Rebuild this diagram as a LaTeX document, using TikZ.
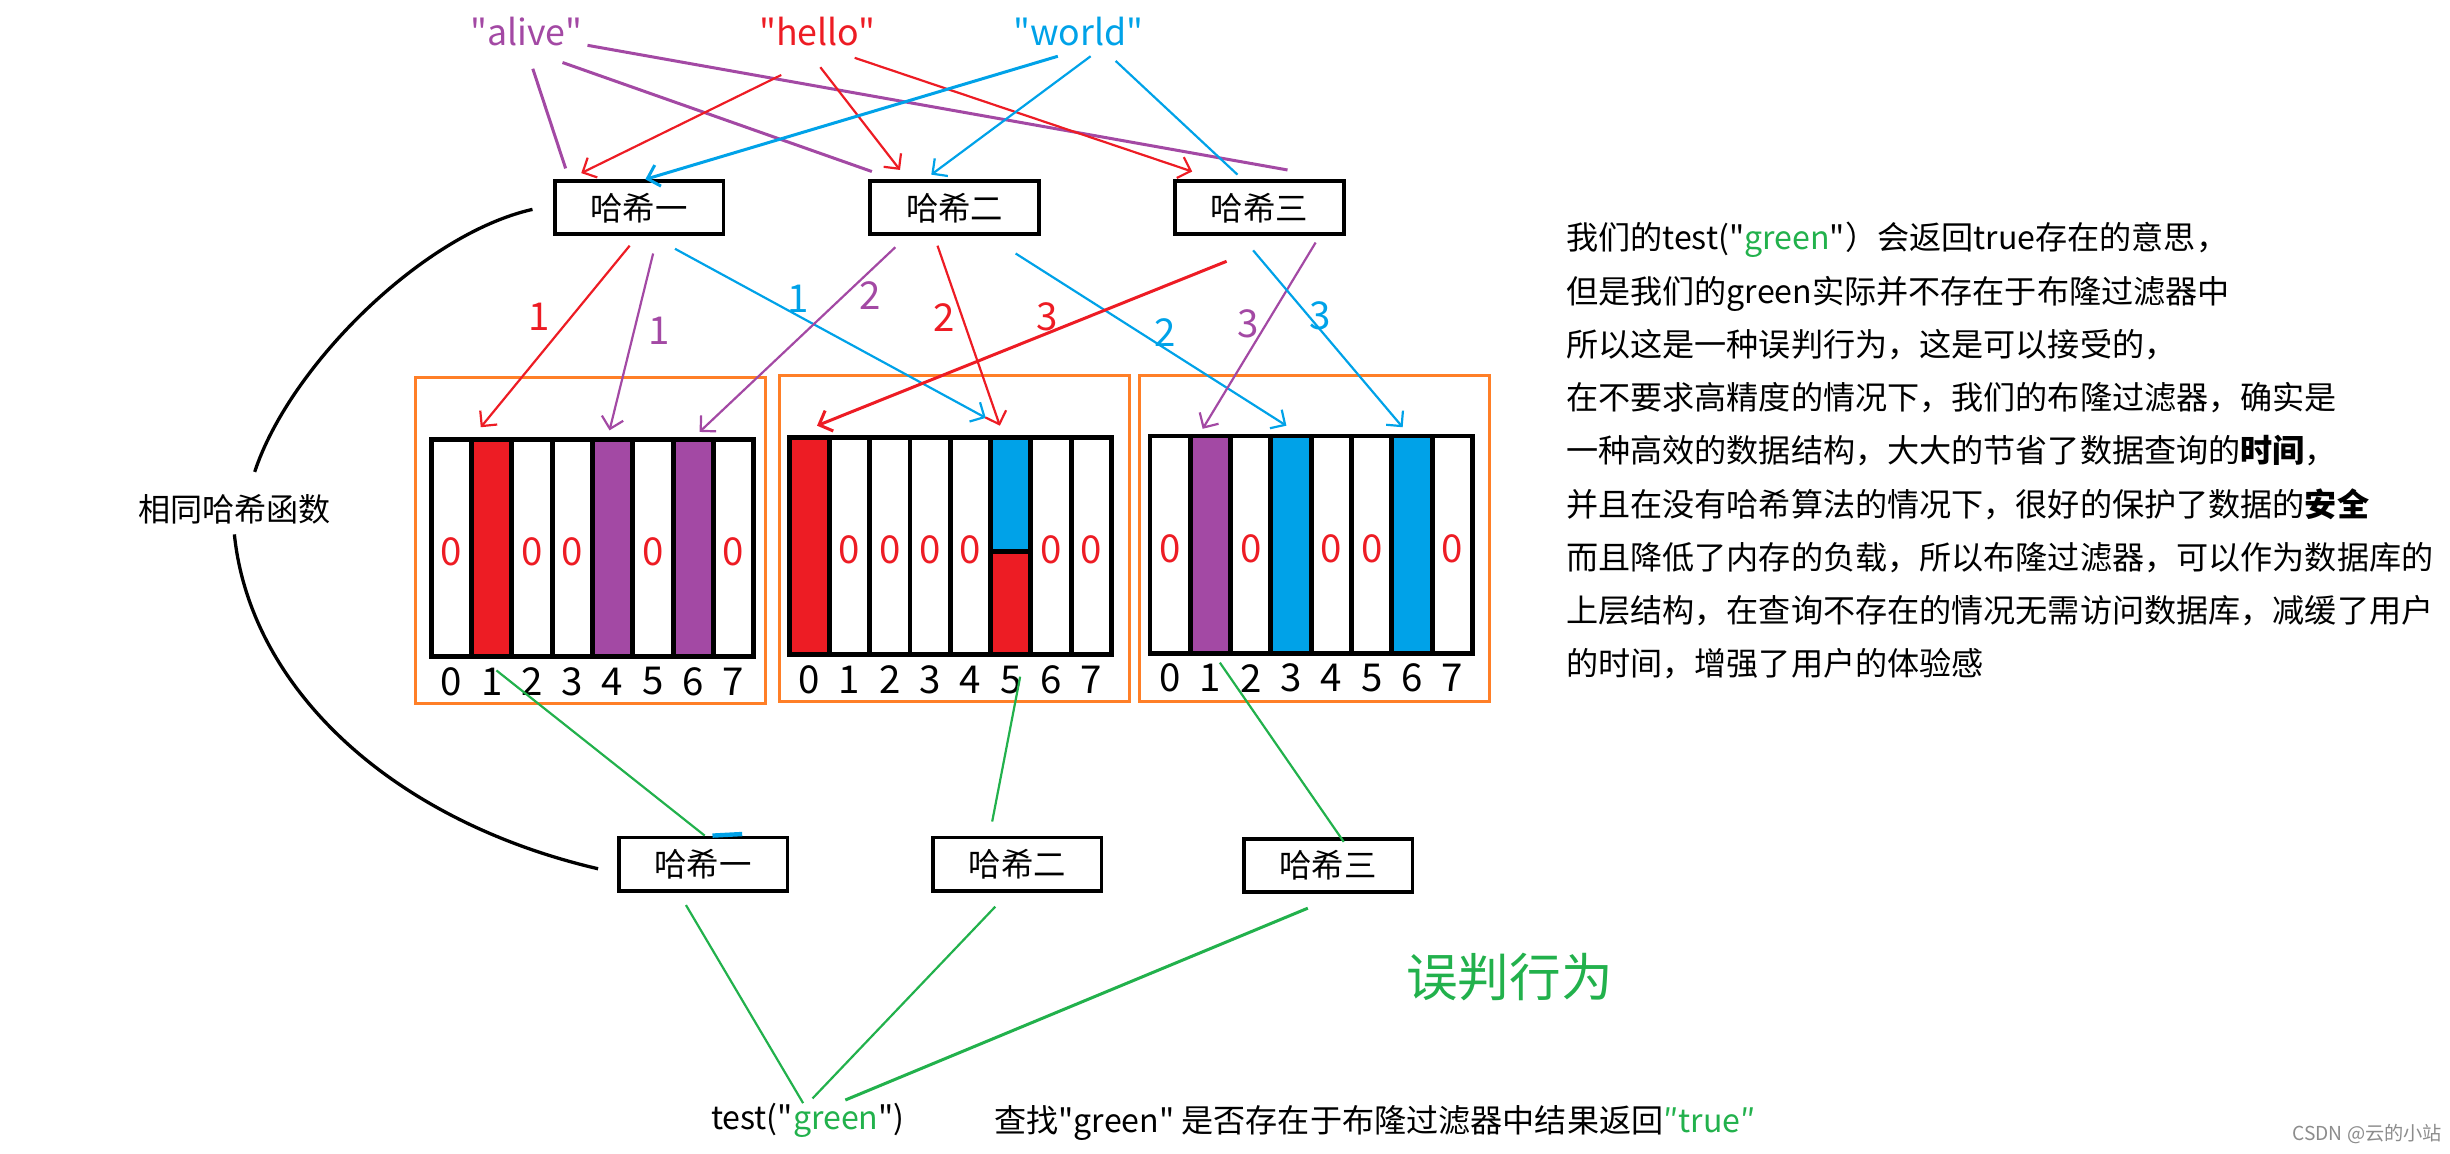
\documentclass[tikz,border=0pt]{standalone}
\usepackage{fontspec}
\setmainfont{Noto Sans CJK SC}[Ligatures=TeXOff]
\usepackage{tikz}
\usetikzlibrary{arrows.meta}
\usepackage{xcolor}
\definecolor{hred}{HTML}{ED1C24}
\definecolor{hpur}{HTML}{A349A4}
\definecolor{hblu}{HTML}{00A2E8}
\definecolor{hgrn}{HTML}{22B14C}
\definecolor{orng}{HTML}{FF7F27}

\begin{document}
\begin{tikzpicture}[x=0.02cm, y=-0.02cm,
  hbox/.style={draw, line width=1.4pt, minimum width=2.16cm, minimum height=0.68cm, inner sep=0pt, font=\fontsize{11.8}{14}\selectfont},
  cell/.style={draw, line width=1.8pt, minimum width=0.516cm, minimum height=2.78cm, inner sep=0pt},
  frame/.style={draw=orng, line width=1.1pt, minimum width=4.48cm, minimum height=4.17cm},
  zero/.style={text=hred, font=\fontsize{14}{16}\selectfont},
  idx/.style={inner sep=0pt, font=\fontsize{14}{16}\selectfont},
  word/.style={font=\fontsize{13}{15}\selectfont},
  txt/.style={font=\fontsize{11.7}{14}\selectfont},
  tip/.style={-{Straight Barb[length=4pt,width=8pt]}},
  rl/.style={draw=hred, line width=0.8pt},
  pl/.style={draw=hpur, line width=0.8pt},
  bl/.style={draw=hblu, line width=0.8pt},
  gl/.style={draw=hgrn, line width=0.8pt},
  curve/.style={draw, line width=1.2pt}]
  \useasboundingbox (0,0) rectangle (1568,738);

  \node[word, text=hpur] (alive) at (337,20) {"alive"};
  \node[word, text=hred] (hello) at (523,20) {"hello"};
  \node[word, text=hblu] (world) at (690,20) {"world"};

  \node[hbox] (h1) at (409,133) {哈希一};
  \node[hbox] (h2) at (611,133) {哈希二};
  \node[hbox] (h3) at (806,133) {哈希三};

  \draw[pl, line width=1.1pt] ([shift={(4,24)}]alive.center) -- ([shift={(-47,-7)}]h1.north);
  \draw[pl, line width=1.1pt] ([shift={(23,20)}]alive.center) -- ([shift={(-53,-5)}]h2.north);
  \draw[pl, line width=1.1pt] ([shift={(39,9)}]alive.center) -- ([shift={(18,-6)}]h3.north);
  \draw[rl, tip] ([shift={(-23,28)}]hello.center) -- ([shift={(-37,-4)}]h1.north);
  \draw[rl, tip] ([shift={(2,23)}]hello.center) -- ([shift={(-35,-6)}]h2.north);
  \draw[rl, tip] ([shift={(24,17)}]hello.center) -- ([shift={(-43,-5)}]h3.north);
  \draw[bl, tip, line width=1.1pt] ([shift={(-13,16)}]world.center) -- ([shift={(4,0)}]h1.north);
  \draw[bl, tip] ([shift={(8,16)}]world.center) -- ([shift={(-15,-3)}]h2.north);
  \draw[bl] ([shift={(24,19)}]world.center) -- ([shift={(-14,-3)}]h3.north);

  \node[frame] (f1) at (378,346) {};
  \node[frame] (f2) at (611,344.5) {};
  \node[frame] (f3) at (841,344.5) {};

  \foreach \i in {0,...,7} {
    \node[cell] (a1-\i) at (288.9+25.8*\i,350.5) {};
    \node[cell] (a2-\i) at (517.9+25.8*\i,349.5) {};
    \node[cell] (a3-\i) at (748.9+25.8*\i,348.5) {};
    \node[idx] (d1-\i) at ([yshift=-0.29cm]a1-\i.south) {\i};
    \node[idx] (d2-\i) at ([yshift=-0.29cm]a2-\i.south) {\i};
    \node[idx] (d3-\i) at ([yshift=-0.29cm]a3-\i.south) {\i};
  }
  \node[cell, fill=hred] at (a1-1) {};
  \node[cell, fill=hpur] at (a1-4) {};
  \node[cell, fill=hpur] at (a1-6) {};
  \node[cell, fill=hred] at (a2-0) {};
  \node[cell, fill=hblu, minimum height=1.46cm, anchor=north] at (a2-5.north) {};
  \node[cell, fill=hred, minimum height=1.32cm, anchor=south] at (a2-5.south) {};
  \node[cell, fill=hpur] at (a3-1) {};
  \node[cell, fill=hblu] at (a3-3) {};
  \node[cell, fill=hblu] at (a3-6) {};
  \foreach \i in {0,2,3,5,7} \node[zero] at ([yshift=-0.05cm]a1-\i) {0};
  \foreach \i in {1,2,3,4,6,7} \node[zero] at ([yshift=-0.05cm]a2-\i) {0};
  \foreach \i in {0,2,4,5,7} \node[zero] at ([yshift=-0.05cm]a3-\i) {0};

  \draw[rl, tip] ([shift={(-6,6)}]h1.south) -- ([shift={(-7,-6)}]a1-1.north);
  \draw[pl, tip] ([shift={(9,11)}]h1.south) -- ([shift={(-2,-4)}]a1-4.north);
  \draw[bl, tip] ([shift={(23,8)}]h1.south) -- ([shift={(-16,-11)}]a2-5.north);
  \draw[pl, tip] ([shift={(-38,7)}]h2.south) -- ([shift={(4,-3)}]a1-6.north);
  \draw[rl, tip] ([shift={(-11,6)}]h2.south) -- ([shift={(-7,-6)}]a2-5.north);
  \draw[bl, tip] ([shift={(39,11)}]h2.south) -- ([shift={(-3,-5)}]a3-3.north);
  \draw[rl, tip, line width=1.1pt] ([shift={(-21,16)}]h3.south) -- ([shift={(5,-6)}]a2-0.north);
  \draw[pl, tip] ([shift={(36,4)}]h3.south) -- ([shift={(-5,-3)}]a3-1.north);
  \draw[bl, tip] ([shift={(-4,9)}]h3.south) -- ([shift={(-6,-4)}]a3-6.north);

  \node[idx, text=hred] (n1) at (345,203) {1};
  \node[idx, text=hpur] (n2) at (422,212) {1};
  \node[idx, text=hblu] (n3) at (511,191) {1};
  \node[idx, text=hpur] (n4) at (557,189) {2};
  \node[idx, text=hred] (n5) at (604,203) {2};
  \node[idx, text=hred] (n6) at (670,203) {3};
  \node[idx, text=hblu] (n7) at (746,213) {2};
  \node[idx, text=hpur] (n8) at (799,207) {3};
  \node[idx, text=hblu] (n9) at (845,202) {3};

  \node[hbox] (h1b) at (450,553) {哈希一};
  \node[hbox] (h2b) at (651,553) {哈希二};
  \node[hbox] (h3b) at (850,554) {哈希三};
  \node[txt] (test) at (517,717) {test("{\color{hgrn}green}")};

  \draw[gl] ([shift={(3,-7)}]d1-1.center) -- ([shift={(1,0)}]h1b.north);
  \draw[gl] ([shift={(6,-2)}]d2-5.center) -- ([shift={(-16,-9)}]h2b.north);
  \draw[gl] ([shift={(6,-10)}]d3-1.center) -- ([shift={(10,3)}]h3b.north);
  \draw[bl, line width=1.6pt] ([shift={(6,0)}]h1b.north) -- ([shift={(25,-1)}]h1b.north);
  \draw[gl] ([shift={(-11,8)}]h1b.south) -- ([shift={(-3,-11)}]test.center);
  \draw[gl] ([shift={(-14,9)}]h2b.south) -- ([shift={(3,-14)}]test.center);
  \draw[gl, line width=1.1pt] ([shift={(-13,9)}]h3b.south) -- ([shift={(24,-13)}]test.center);

  \node[txt] (same) at (150,326) {相同哈希函数};
  \draw[curve] ([shift={(-13,1)}]h1.west) .. controls (270,150) and (185,235) .. ([shift={(13,-24)}]same.center);
  \draw[curve] ([shift={(0,16)}]same.center) .. controls (160,440) and (250,525) .. ([shift={(-12,3)}]h1b.west);

  \node[text=hgrn, font=\fontsize{18.8}{22}\selectfont] (wrong) at (966,625) {误判行为};
  \node[txt, anchor=west, inner sep=0pt] (find) at (636,719) {查找"green" 是否存在于布隆过滤器中结果返回{\color{hgrn}″true″}};

  \node[anchor=north west, inner sep=0pt, align=left, font=\fontsize{11.7}{19.4}\selectfont] (note) at (1002,142) {%
    我们的test("{\color{hgrn}green}"）会返回true存在的意思，\\
    但是我们的green实际并不存在于布隆过滤器中\\
    所以这是一种误判行为，这是可以接受的，\\
    在不要求高精度的情况下，我们的布隆过滤器，确实是\\
    一种高效的数据结构，大大的节省了数据查询的\textbf{时间}，\\
    并且在没有哈希算法的情况下，很好的保护了数据的\textbf{安全}\\
    而且降低了内存的负载，所以布隆过滤器，可以作为数据库的\\
    上层结构，在查询不存在的情况无需访问数据库，减缓了用户\\
    的时间，增强了用户的体验感};

  \node[text=black!45, font=\fontsize{7}{8}\selectfont] (mark) at (1515,726) {CSDN @云的小站};
\end{tikzpicture}
\end{document}
